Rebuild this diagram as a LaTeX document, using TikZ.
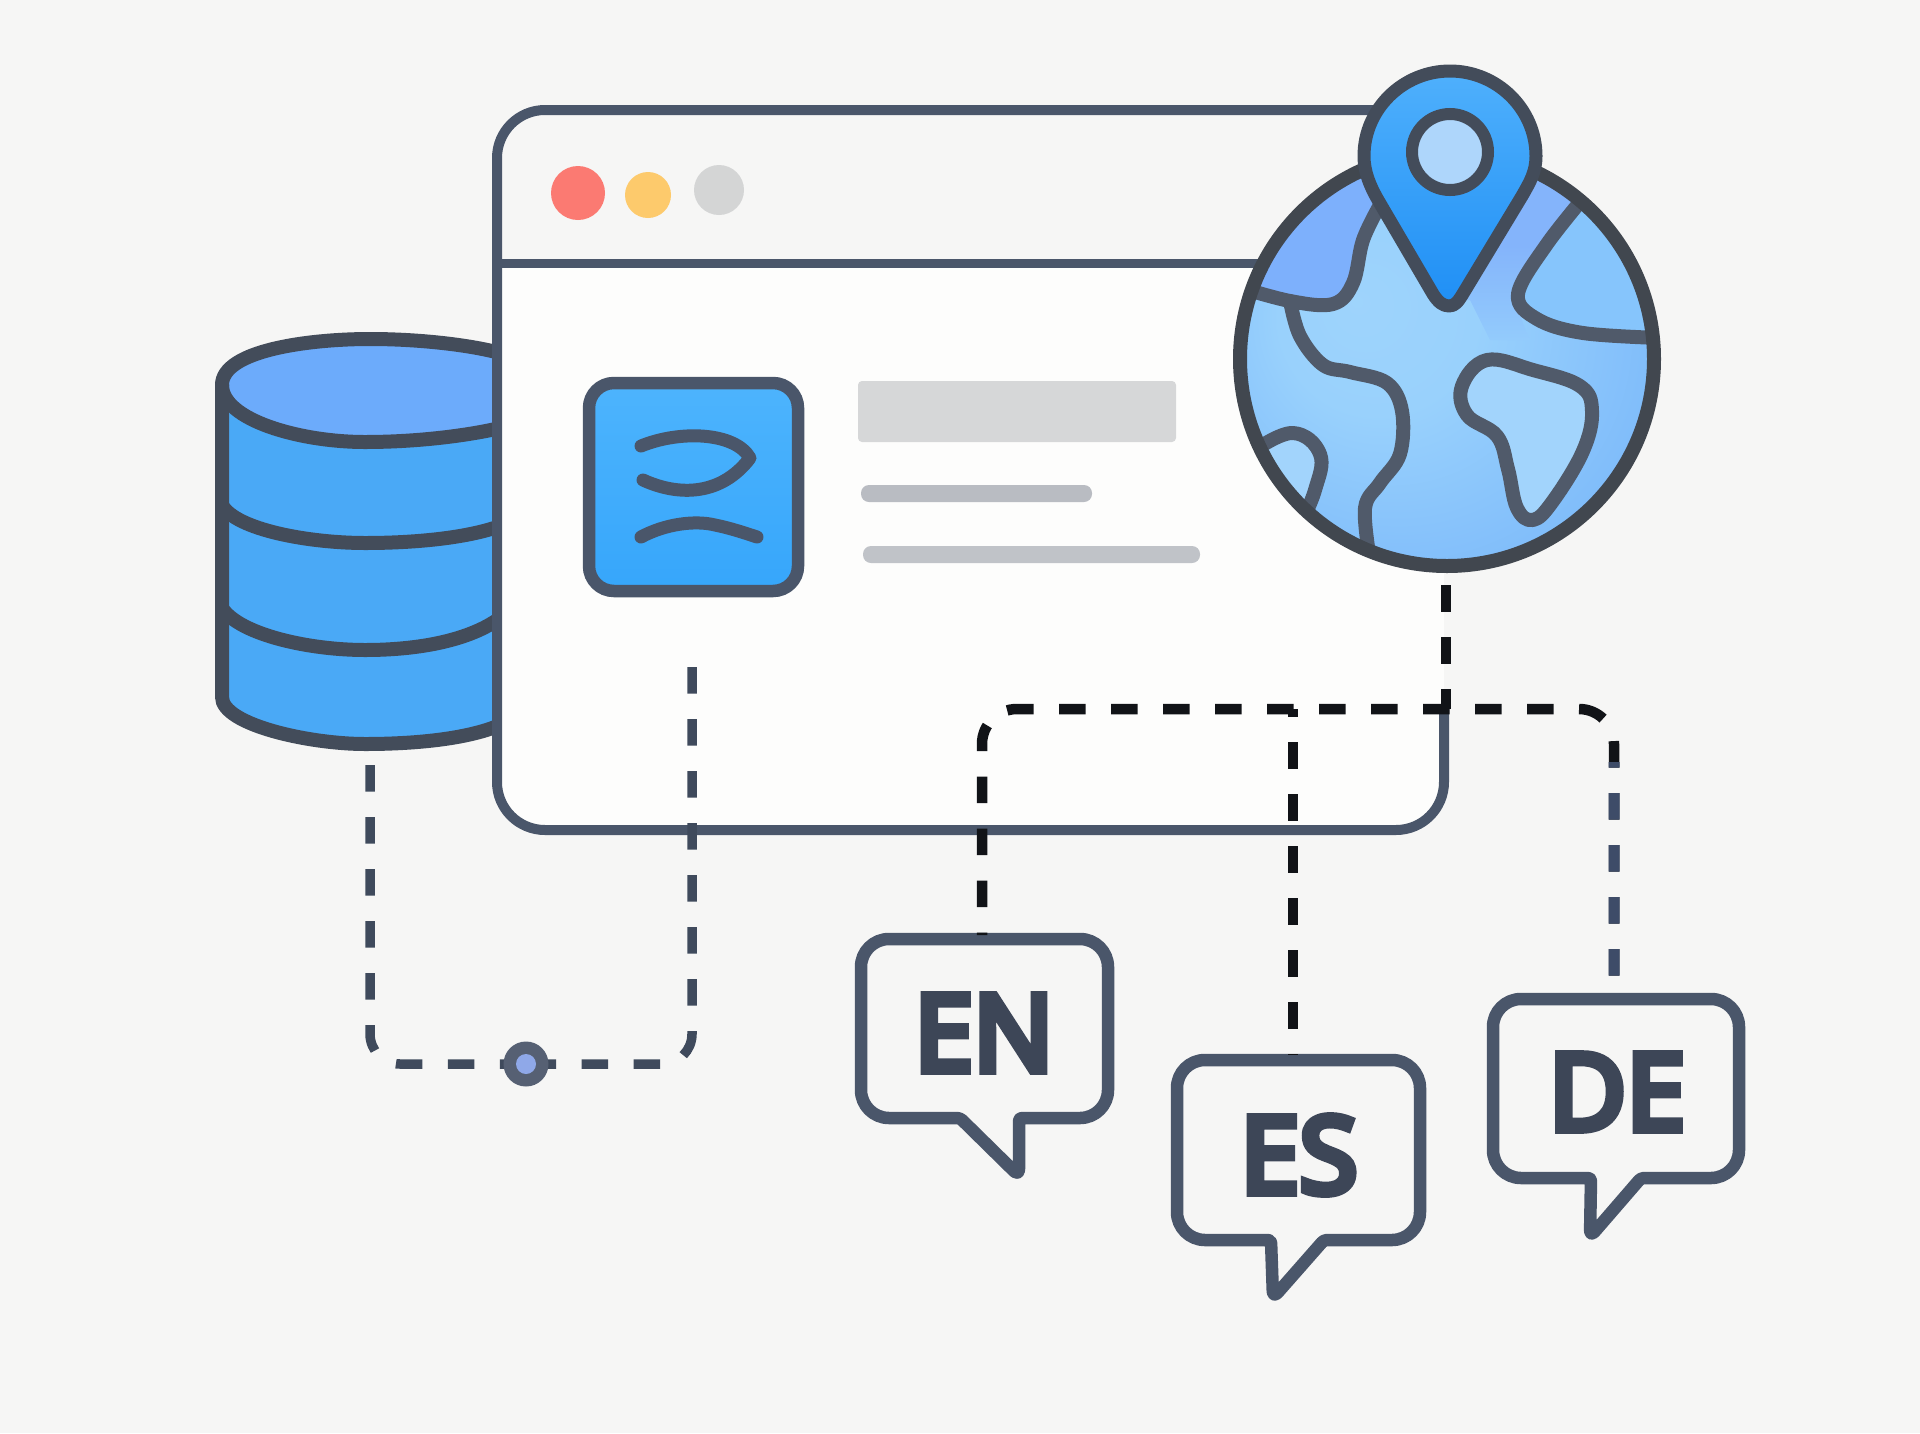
\documentclass[tikz,border=0pt]{standalone}
\usepackage{fontspec}
\setmainfont{Noto Sans}[FakeBold=7.5]
\usetikzlibrary{shadings}
\definecolor{bgc}{HTML}{F6F6F5}
\definecolor{bodyc}{HTML}{FDFDFC}
\definecolor{slate}{HTML}{4A566A}
\definecolor{dbline}{HTML}{434C5A}
\definecolor{inkc}{HTML}{3D4657}
\definecolor{dashk}{HTML}{111317}
\definecolor{dashs}{HTML}{3F4A5C}
\definecolor{dashb}{HTML}{3E4C68}
\definecolor{glline}{HTML}{505A6A}
\definecolor{gloutline}{HTML}{41474F}
\definecolor{dbbody}{HTML}{4AA9F6}
\definecolor{dbtop}{HTML}{6CABFB}
\definecolor{lred}{HTML}{FB7A72}
\definecolor{lyellow}{HTML}{FDCA6C}
\definecolor{lgrey}{HTML}{D4D5D5}
\definecolor{tiletop}{HTML}{4DB4FD}
\definecolor{tilebot}{HTML}{36A6FB}
\definecolor{barA}{HTML}{D6D7D8}
\definecolor{barB}{HTML}{B9BCC2}
\definecolor{barC}{HTML}{C0C3C8}
\definecolor{hubc}{HTML}{566073}
\definecolor{hubcore}{HTML}{8FA8E8}
\definecolor{seaA}{HTML}{7DB0FC}
\definecolor{seaB}{HTML}{84B4FB}
\definecolor{seaFade}{HTML}{93CBFC}
\definecolor{landR}{HTML}{86C5FC}
\definecolor{landL}{HTML}{A2D4FC}
\definecolor{pintop}{HTML}{4FB0FC}
\definecolor{pinbot}{HTML}{1F8FF5}
\definecolor{pinhole}{HTML}{AED6FB}
\pgfdeclareradialshading{globeshade}{\pgfpoint{-11bp}{7bp}}{
 rgb(0bp)=(0.62,0.83,0.99); rgb(12bp)=(0.60,0.82,0.99); rgb(32bp)=(0.49,0.73,0.98); rgb(50bp)=(0.47,0.73,0.98)}
\tikzset{
 winline/.style={draw=slate,line width=10pt},
 dbstroke/.style={draw=dbline,line width=14pt,line cap=round},
 conn/.style={line width=9.5pt,dash pattern=on 26.5pt off 25.5pt},
 bubble/.style={draw=slate,fill=bgc,line width=12.5pt,line join=round},
 lang/.style={font=\fontsize{106}{106}\selectfont,text=inkc,inner sep=0pt},
 dot/.style={circle,inner sep=0pt},
 coast/.style={draw=glline,line width=14pt,line cap=round,line join=round},
 iconline/.style={draw=slate,line width=13pt,line cap=round,line join=round},
}
\begin{document}
\begin{tikzpicture}[x=1pt,y=-1pt]
\useasboundingbox (0,0) rectangle (1920,1433);
\fill[bgc] (0,0) rectangle (1920,1433);

% database
\path[fill=dbbody] (222,385) -- (222,697)
  .. controls (222,725) and (310,744) .. (365,744)
  .. controls (420,744) and (470,738) .. (505,722) -- (505,350) -- cycle;
\path[fill=dbtop] (222,385)
  .. controls (222,350) and (310,339) .. (370,339)
  .. controls (420,339) and (470,345) .. (505,355) -- (505,427)
  .. controls (470,435) and (420,442) .. (365,442)
  .. controls (300,442) and (222,420) .. (222,385) -- cycle;
\draw[dbstroke] (222,385)
  .. controls (222,350) and (310,339) .. (370,339)
  .. controls (420,339) and (470,345) .. (500,353);
\draw[dbstroke] (222,385)
  .. controls (222,420) and (300,442) .. (365,442)
  .. controls (420,442) and (470,435) .. (500,428);
\draw[dbstroke] (222,385) -- (222,697)
  .. controls (222,725) and (310,744) .. (365,744)
  .. controls (420,744) and (470,738) .. (500,725);
\draw[dbstroke] (222,505) .. controls (236,530) and (310,543) .. (365,543)
  .. controls (420,543) and (470,537) .. (500,526);
\draw[dbstroke] (222,608) .. controls (240,635) and (310,650) .. (365,650)
  .. controls (420,650) and (470,640) .. (500,618);

% browser window
\path[fill=bodyc] (497,263) -- (1444,263) [rounded corners=48] -- (1444,830) -- (497,830) [sharp corners] -- cycle;
\draw[winline,rounded corners=48] (1400,110) -- (497,110) -- (497,830) -- (1444,830) -- (1444,707);
\draw[draw=slate,line width=9pt] (497,263) -- (1300,263);
\node[dot,fill=lred,minimum size=54pt] (lightred) at (578,193) {};
\node[dot,fill=lyellow,minimum size=46pt] (lightyellow) at (648,195) {};
\node[dot,fill=lgrey,minimum size=50pt] (lightgrey) at (719,190) {};

% icon tile
\draw[draw=slate,line width=12.5pt,rounded corners=25,top color=tiletop,bottom color=tilebot]
  (589,383) rectangle (798,591);
\draw[iconline] (641,446) .. controls (680,430) and (735,432) .. (750,458)
  .. controls (722,495) and (680,497) .. (643,480);
\draw[iconline] (641,537) .. controls (665,524) and (695,520) .. (715,525)
  .. controls (730,528) and (745,533) .. (757,537);

% content bars
\fill[barA,rounded corners=4] (858,381) rectangle (1176,442);
\fill[barB,rounded corners=8] (861,485) rectangle (1092,502);
\fill[barC,rounded corners=8] (863,546) rectangle (1200,563);

% speech bubbles
\draw[bubble,rounded corners=28] (861,939) -- (1108,939) -- (1108,1118) [rounded corners=3] -- (1019,1118) [rounded corners=7] -- (1019,1176) [rounded corners=3] -- (960,1118) [rounded corners=28] -- (861,1118) -- cycle;
\draw[bubble,rounded corners=28] (1177,1060) -- (1420,1060) -- (1420,1240) [rounded corners=3] -- (1324,1240) [rounded corners=7] -- (1273,1298) [rounded corners=3] -- (1271,1240) [rounded corners=28] -- (1177,1240) -- cycle;
\draw[bubble,rounded corners=28] (1493,999) -- (1739,999) -- (1739,1178) [rounded corners=3] -- (1641,1178) [rounded corners=7] -- (1590,1237) [rounded corners=3] -- (1591,1178) [rounded corners=28] -- (1493,1178) -- cycle;
\node[lang] (en) at (984,1033) {EN};
\node[lang] (es) at (1299,1155) {ES};
\node[lang] (de) at (1617,1092) {DE};

% connector anchors
\coordinate (dbBottom) at (370,765);
\coordinate (tileBottom) at (692,667);
\coordinate (globeBottom) at (1446,572);
\coordinate (enTop) at (982,935);
\coordinate (esTop) at (1293,1055);
\coordinate (deTop) at (1614,995);
\coordinate (busLine) at (1300,709);
\coordinate (hub) at (526,1064);

% dashed connectors
\draw[conn,dashs,rounded corners=30] (dbBottom) -- (dbBottom |- hub) -- (hub);
\draw[conn,dashs,rounded corners=30] (tileBottom) -- (tileBottom |- hub) -- (hub);
\node[dot,minimum size=45pt,fill=hubc] (hubface) at (hub) {};
\node[dot,minimum size=20pt,fill=hubcore] (hubinner) at (hub) {};
\draw[conn,dashk,line width=10.5pt,dash phase=24pt,rounded corners=35] (enTop) -- (enTop |- busLine) -- (deTop |- busLine) -- (deTop);
\begin{scope}
 \clip (1590,762) rectangle (1640,1000);
 \draw[conn,dashb,line width=11pt,dash phase=24pt,rounded corners=35] (enTop) -- (enTop |- busLine) -- (deTop |- busLine) -- (deTop);
\end{scope}
\draw[conn,dashk,line width=10.5pt,dash phase=19pt] (esTop |- busLine) -- (esTop);
\draw[conn,dashk,line width=10.5pt,dash phase=39pt] (globeBottom) -- (globeBottom |- busLine);

% globe
\begin{scope}
 \clip (1447,359) circle [radius=207];
 \shade[shading=globeshade] (1240,152) rectangle (1654,566);
 % upper left region
 \fill[seaA] (1230,285) -- (1250,290) -- plot[smooth,tension=0.6] coordinates {(1250,290) (1290,301) (1333,304) (1353,283) (1363,240) (1377,211)} -- (1400,120) -- (1230,120) -- cycle;
 % upper right strip, fading into the land at its foot
 \shade[top color=seaB,bottom color=seaFade,middle color=seaB] (1530,150) -- (1600,180) -- (1583,201) -- plot[smooth,tension=0.6] coordinates {(1583,201) (1547,244) (1518,294) (1530,340)} -- (1490,340) -- (1470,300) -- (1450,300) -- cycle;
 % right land
 \fill[landR] plot[smooth,tension=0.6] coordinates {(1583,201) (1547,244) (1518,294) (1537,319) (1583,333) (1660,338)} -- (1670,150) -- (1600,150) -- cycle;
 % small island
 \fill[landL] plot[smooth,tension=0.7] coordinates {(1255,450) (1293,433) (1320,454) (1315,490) (1300,525)} -- (1230,525) -- cycle;
 % large island
 \draw[coast,fill=landL] plot[smooth cycle,tension=0.65] coordinates {(1487,360) (1533,370) (1580,386) (1592,411) (1583,451) (1553,501) (1533,520) (1517,508) (1508,469) (1497,436) (1467,415) (1462,386)};
 % coast lines
 \draw[coast] plot[smooth,tension=0.6] coordinates {(1235,286) (1290,301) (1333,304) (1353,283) (1363,240) (1380,205)};
 \draw[coast] plot[smooth,tension=0.6] coordinates {(1290,301) (1300,336) (1323,365) (1350,372) (1387,383) (1402,411) (1400,454) (1380,483) (1365,508) (1370,560)};
 \draw[coast] plot[smooth,tension=0.6] coordinates {(1590,190) (1547,244) (1518,294) (1537,319) (1583,333) (1660,338)};
 \draw[coast] plot[smooth,tension=0.7] coordinates {(1255,450) (1293,433) (1320,454) (1315,490) (1300,525)};
\end{scope}
\node[circle,draw=gloutline,line width=14pt,minimum size=414pt,inner sep=0pt] (globe) at (1447,359) {};

% pin
\path[draw=dbline,line width=13pt,line join=round,top color=pintop,bottom color=pinbot]
  (1450,71) .. controls (1497,71) and (1536,109) .. (1536,156)
  .. controls (1536,172) and (1530,182) .. (1522,196)
  -- (1464,292) .. controls (1458,302) and (1455,306) .. (1449,306)
  .. controls (1443,306) and (1438,302) .. (1433,294)
  -- (1378,200) .. controls (1370,186) and (1364,172) .. (1364,156)
  .. controls (1364,109) and (1403,71) .. (1450,71) -- cycle;
\node[circle,draw=dbline,line width=12pt,fill=pinhole,minimum size=76pt,inner sep=0pt] (pinhead) at (1450,152) {};
\end{tikzpicture}
\end{document}
